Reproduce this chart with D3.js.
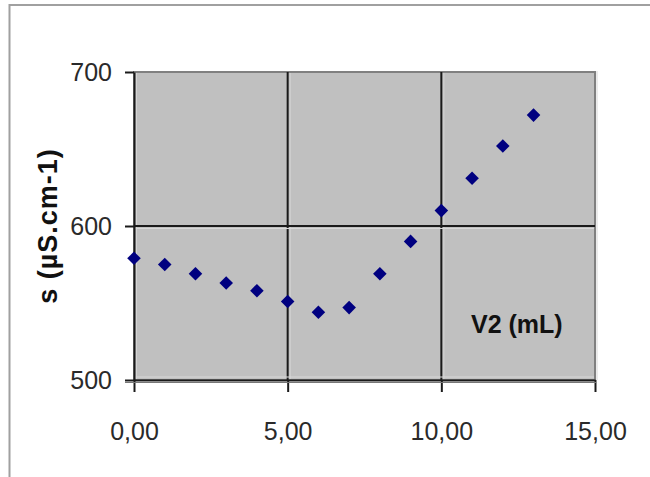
<!DOCTYPE html>
<html>
<head>
<meta charset="utf-8">
<script src="https://cdn.jsdelivr.net/npm/d3@7"></script>
<style>
  body { margin: 0; background: #fff; }
  svg { display: block; font-family: "Liberation Sans", Arial, sans-serif; }
</style>
</head>
<body>
<svg id="chart" width="650" height="477"></svg>
<script>
// titration data: added volume V2 (mL) vs conductivity
var volumes = [0, 1, 2, 3, 4, 5, 6, 7, 8, 9, 10, 11, 12, 13];
var conductivity = [579, 575, 569, 563, 558, 551, 544, 547, 569, 590, 610, 631, 652, 672];
var xTicks = [0, 5, 10, 15];
var yTicks = [500, 600, 700];
var xTitle = 'V2 (mL)';
var yTitle = 's (\u00b5S.cm-1)';

var svg = d3.select('#chart');
var frLocale = d3.formatLocale({decimal: ',', thousands: '.', grouping: [3], currency: ['', '']});
var fmtX = frLocale.format('.2f');

// note: "top" is reserved on window, so plot edges get their own names
var plotLeft = 134, plotRight = 595, plotTop = 72, plotBottom = 380;

var x = d3.scaleLinear().domain([0, 15]).range([plotLeft, plotRight]);
var y = d3.scaleLinear().domain([500, 700]).range([plotBottom, plotTop]);

// outer chart frame
svg.append('rect')
  .attr('x', 9.5).attr('y', 5)
  .attr('width', 700).attr('height', 520)
  .attr('fill', '#fff')
  .attr('stroke', '#a0a0a0')
  .attr('stroke-width', 2);

// plot area
svg.append('rect')
  .attr('x', plotLeft).attr('y', plotTop)
  .attr('width', plotRight - plotLeft).attr('height', plotBottom - plotTop)
  .attr('fill', '#c0c0c0')
  .attr('stroke', '#808080')
  .attr('stroke-width', 2);

// light edge next to the right border
svg.append('line')
  .attr('x1', plotRight + 2).attr('x2', plotRight + 2)
  .attr('y1', plotTop - 1).attr('y2', plotBottom)
  .attr('stroke', '#e4e4e4').attr('stroke-width', 1.5);

// gridlines
var grid = svg.append('g');
grid.selectAll('line.vx')
  .data(xTicks.filter(function(d) { return d > 0 && d < 15; }))
  .enter().append('line')
  .attr('class', 'vx')
  .attr('x1', function(d) { return x(d); })
  .attr('x2', function(d) { return x(d); })
  .attr('y1', plotTop).attr('y2', plotBottom)
  .attr('stroke', '#1a1a1a').attr('stroke-width', 2);

grid.selectAll('line.vxl')
  .data(xTicks.filter(function(d) { return d < 15; }))
  .enter().append('line')
  .attr('class', 'vxl')
  .attr('x1', function(d) { return x(d) + 2.5; })
  .attr('x2', function(d) { return x(d) + 2.5; })
  .attr('y1', plotTop + 1).attr('y2', plotBottom - 1)
  .attr('stroke', '#d4d4d4').attr('stroke-width', 1);

grid.selectAll('line.hy')
  .data(yTicks.filter(function(d) { return d > 500 && d < 700; }))
  .enter().append('line')
  .attr('class', 'hy')
  .attr('x1', plotLeft).attr('x2', plotRight)
  .attr('y1', function(d) { return y(d); })
  .attr('y2', function(d) { return y(d); })
  .attr('stroke', '#1a1a1a').attr('stroke-width', 2);

grid.selectAll('line.hyl')
  .data(yTicks.filter(function(d) { return d > 500 && d < 700; }))
  .enter().append('line')
  .attr('class', 'hyl')
  .attr('x1', plotLeft + 1).attr('x2', plotRight - 1)
  .attr('y1', function(d) { return y(d) + 2.5; })
  .attr('y2', function(d) { return y(d) + 2.5; })
  .attr('stroke', '#d8d8d8').attr('stroke-width', 1);

svg.append('line')
  .attr('x1', plotLeft + 1).attr('x2', plotRight - 1)
  .attr('y1', plotBottom - 3).attr('y2', plotBottom - 3)
  .attr('stroke', '#d8d8d8').attr('stroke-width', 1);

// axes
var xAxis = svg.append('g')
  .attr('transform', 'translate(0,' + plotBottom + ')')
  .call(d3.axisBottom(x).tickValues(xTicks).tickFormat(fmtX).tickSize(12).tickPadding(30).tickSizeOuter(0));

var yAxis = svg.append('g')
  .attr('transform', 'translate(' + plotLeft + ',0)')
  .call(d3.axisLeft(y).tickValues(yTicks).tickFormat(d3.format('d')).tickSize(9).tickPadding(13).tickSizeOuter(0));

[xAxis, yAxis].forEach(function(ax) {
  ax.select('.domain').attr('stroke', '#1a1a1a').attr('stroke-width', 2);
  ax.selectAll('.tick line').attr('stroke', '#1a1a1a').attr('stroke-width', 2);
  ax.selectAll('.tick text')
    .attr('fill', '#2a2a2a')
    .style('font-size', '25px')
    .style('font-family', '"Liberation Sans", Arial, sans-serif');
});

// grey shadow under the x axis line
svg.append('line')
  .attr('x1', plotLeft - 9).attr('x2', plotRight + 1)
  .attr('y1', plotBottom + 2.5).attr('y2', plotBottom + 2.5)
  .attr('stroke', '#777').attr('stroke-width', 1);

// points
var diamond = d3.symbol().type(d3.symbolSquare).size(92);
svg.append('g')
  .selectAll('path')
  .data(volumes)
  .enter().append('path')
  .attr('d', diamond)
  .attr('transform', function(d, i) {
    return 'translate(' + x(d) + ',' + y(conductivity[i]) + ') rotate(45)';
  })
  .attr('fill', '#000080');

// axis titles
svg.append('text')
  .attr('x', 471).attr('y', 333)
  .attr('font-size', 25)
  .attr('font-weight', 'bold')
  .attr('fill', '#111')
  .text(xTitle);

svg.append('text')
  .attr('transform', 'translate(48,' + ((plotTop + plotBottom) / 2) + ') rotate(-90)')
  .attr('text-anchor', 'middle')
  .attr('dy', '0.35em')
  .attr('font-size', 27)
  .attr('font-weight', 'bold')
  .attr('letter-spacing', 1)
  .attr('fill', '#111')
  .text(yTitle);
</script>
</body>
</html>
